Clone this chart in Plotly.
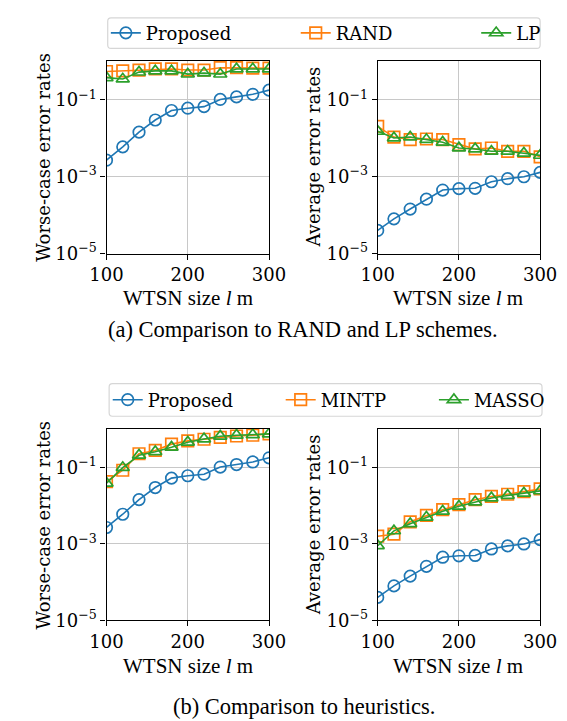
import plotly.graph_objects as go

W, H = 567, 721

sizes = [100, 120, 140, 160, 180, 200, 220, 240, 260, 280, 300]

# (a) comparison to RAND and LP
worst_proposed = [2.7e-3, 6.0e-3, 1.45e-2, 3.0e-2, 5.3e-2, 6.1e-2, 6.7e-2, 1.03e-1, 1.2e-1, 1.4e-1, 1.8e-1]
worst_rand = [0.55, 0.57, 0.60, 0.64, 0.64, 0.60, 0.60, 0.69, 0.69, 0.67, 0.67]
worst_lp = [0.38, 0.35, 0.53, 0.57, 0.57, 0.47, 0.50, 0.47, 0.64, 0.64, 0.64]

avg_proposed = [4.0e-5, 8.0e-5, 1.44e-4, 2.6e-4, 4.5e-4, 4.9e-4, 5.0e-4, 7.4e-4, 8.9e-4, 1.0e-3, 1.3e-3]
avg_rand = [0.0204, 0.0108, 0.0093, 0.0096, 0.0093, 0.0069, 0.0053, 0.0056, 0.0046, 0.0046, 0.0033]
avg_lp = [0.0152, 0.0102, 0.0108, 0.0093, 0.0079, 0.0056, 0.0053, 0.0046, 0.0046, 0.0041, 0.0036]

# (b) comparison to heuristics
worst_mintp = [0.043, 0.085, 0.23, 0.28, 0.41, 0.50, 0.55, 0.62, 0.67, 0.70, 0.76]
worst_masso = [0.039, 0.10, 0.21, 0.26, 0.34, 0.46, 0.56, 0.66, 0.70, 0.72, 0.76]

avg_mintp = [1.6e-3, 1.8e-3, 3.8e-3, 5.6e-3, 7.9e-3, 1.07e-2, 1.44e-2, 1.75e-2, 2.0e-2, 2.34e-2, 2.76e-2]
avg_masso = [9.0e-4, 2.2e-3, 3.4e-3, 5.0e-3, 7.2e-3, 9.7e-3, 1.26e-2, 1.6e-2, 1.86e-2, 2.13e-2, 2.45e-2]

ytick_vals = [1e-5, 1e-3, 1e-1]
ytick_text = ["10<sup>\u22125</sup>", "10<sup>\u22123</sup>", "10<sup>\u22121</sup>"]
xtick_vals = [100, 200, 300]

BLUE, ORANGE, GREEN = "#1f77b4", "#ff7f0e", "#2ca02c"
SERIF = "'DejaVu Serif', 'Liberation Serif', serif"
TIMES = "'Liberation Serif', 'Times New Roman', serif"

def px_x(p):
    return p / W

def px_y(p):
    return 1 - p / H

fig = go.Figure()

panels = [
    ("x", "y", [("Proposed", worst_proposed, BLUE, "circle-open"),
                ("RAND", worst_rand, ORANGE, "square-open"),
                ("LP", worst_lp, GREEN, "triangle-up-open")], ["legend", "legend2", "legend3"]),
    ("x2", "y2", [("Proposed", avg_proposed, BLUE, "circle-open"),
                  ("RAND", avg_rand, ORANGE, "square-open"),
                  ("LP", avg_lp, GREEN, "triangle-up-open")], None),
    ("x3", "y3", [("Proposed", worst_proposed, BLUE, "circle-open"),
                  ("MINTP", worst_mintp, ORANGE, "square-open"),
                  ("MASSO", worst_masso, GREEN, "triangle-up-open")], ["legend4", "legend5", "legend6"]),
    ("x4", "y4", [("Proposed", avg_proposed, BLUE, "circle-open"),
                  ("MINTP", avg_mintp, ORANGE, "square-open"),
                  ("MASSO", avg_masso, GREEN, "triangle-up-open")], None),
]

for xa, ya, series, legs in panels:
    for i, (name, vals, col, sym) in enumerate(series):
        kw = dict(showlegend=False)
        if legs is not None:
            kw = dict(showlegend=True, legend=legs[i])
        fig.add_trace(go.Scatter(
            x=sizes, y=vals, name=name, mode="lines+markers",
            line=dict(color=col, width=1.6),
            marker=dict(symbol=sym, size=11.5, color=col, line=dict(color=col, width=1.7)),
            xaxis=xa, yaxis=ya, cliponaxis=True, **kw))

xdom_left = [px_x(86.7), px_x(259.6)]
xdom_right = [px_x(375.2), px_x(548.0)]
ydom_top = [px_y(249.0), px_y(53.5)]
ydom_bot = [px_y(621.0), px_y(426.5)]

common_x = dict(range=[100, 300], tickvals=xtick_vals, showgrid=True, gridcolor="#c8c8c8", gridwidth=1,
                showline=True, linecolor="black", linewidth=1.2, mirror=True,
                ticks="outside", ticklen=5, tickwidth=1.1, tickcolor="black",
                tickfont=dict(family=SERIF, size=18, color="black"), zeroline=False)
common_y = dict(type="log", range=[-5, 0.02], tickvals=ytick_vals, ticktext=ytick_text,
                showgrid=True, gridcolor="#c8c8c8", gridwidth=1,
                showline=True, linecolor="black", linewidth=1.2, mirror=True,
                ticks="outside", ticklen=5, tickwidth=1.1, tickcolor="black",
                tickfont=dict(family=SERIF, size=18, color="black"), zeroline=False)

fig.update_layout(
    width=W, height=H, margin=dict(l=0, r=0, t=0, b=0),
    paper_bgcolor="white", plot_bgcolor="white",
    font=dict(family=SERIF, size=18, color="black"),
    xaxis=dict(domain=xdom_left, anchor="y", **common_x),
    yaxis=dict(domain=ydom_top, anchor="x", **common_y),
    xaxis2=dict(domain=xdom_right, anchor="y2", **common_x),
    yaxis2=dict(domain=ydom_top, anchor="x2", **common_y),
    xaxis3=dict(domain=xdom_left, anchor="y3", **common_x),
    yaxis3=dict(domain=ydom_bot, anchor="x3", **common_y),
    xaxis4=dict(domain=xdom_right, anchor="y4", **common_x),
    yaxis4=dict(domain=ydom_bot, anchor="x4", **common_y),
)

leg_font = dict(family=SERIF, size=18, color="black")
leg_pos = {
    "legend": (86, 25.5), "legend2": (288, 25.5), "legend3": (480, 25.5),
    "legend4": (88, 397.5), "legend5": (272, 397.5), "legend6": (435, 397.5),
}
for key, (lx, ly) in leg_pos.items():
    fig.update_layout({key: dict(x=px_x(lx), y=px_y(ly), xanchor="left", yanchor="middle",
                                 orientation="h", bgcolor="rgba(0,0,0,0)", borderwidth=0,
                                 font=leg_font, itemclick=False, itemdoubleclick=False)})

def rounded_rect(x0, y0, x1, y1, r=3.5):
    X = lambda v: f"{px_x(v):.5f}"
    Y = lambda v: f"{px_y(v):.5f}"
    return (f"M{X(x0 + r)},{Y(y0)} L{X(x1 - r)},{Y(y0)} Q{X(x1)},{Y(y0)} {X(x1)},{Y(y0 + r)} "
            f"L{X(x1)},{Y(y1 - r)} Q{X(x1)},{Y(y1)} {X(x1 - r)},{Y(y1)} "
            f"L{X(x0 + r)},{Y(y1)} Q{X(x0)},{Y(y1)} {X(x0)},{Y(y1 - r)} "
            f"L{X(x0)},{Y(y0 + r)} Q{X(x0)},{Y(y0)} {X(x0 + r)},{Y(y0)} Z")

for (x0, y0, x1, y1) in [(88, 10, 548, 41), (89.5, 381, 550, 414)]:
    fig.add_shape(type="path", xref="paper", yref="paper", path=rounded_rect(x0, y0, x1, y1),
                  line=dict(color="#d6d6d6", width=1.2), fillcolor="rgba(255,255,255,0)", layer="above")

ann = []
for cx, cy, txt in [(20, 151, "Worse-case error rates"), (307, 151, "Average error rates"),
                    (20, 524, "Worse-case error rates"), (307, 524, "Average error rates")]:
    ann.append(dict(x=px_x(cx), y=px_y(cy), xref="paper", yref="paper", text=txt, textangle=-90,
                    showarrow=False, xanchor="center", yanchor="middle",
                    font=dict(family=SERIF, size=18, color="black")))
for cx, cy in [(173, 294), (461, 294), (173, 667), (461, 667)]:
    ann.append(dict(x=px_x(cx), y=px_y(cy), xref="paper", yref="paper", text="WTSN size <i>l</i> m",
                    showarrow=False, xanchor="center", yanchor="middle",
                    font=dict(family=TIMES, size=21, color="black")))
for cx, cy, txt in [(296, 326, "(a) Comparison to RAND and LP schemes."),
                    (297, 708, "(b) Comparison to heuristics.")]:
    ann.append(dict(x=px_x(cx), y=px_y(cy), xref="paper", yref="paper", text=txt,
                    showarrow=False, xanchor="center", yanchor="middle",
                    font=dict(family=TIMES, size=22.5, color="black")))
fig.update_layout(annotations=ann)

fig.write_html("out.html")
